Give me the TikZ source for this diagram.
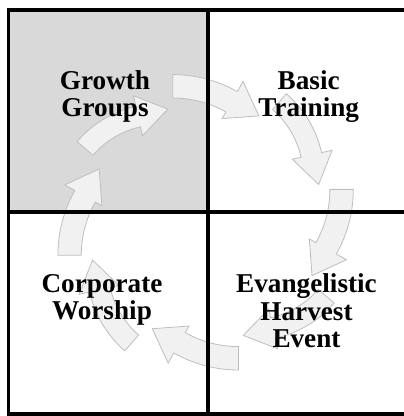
\documentclass[tikz,border=0pt]{standalone}
\usepackage{fontspec}
\setmainfont{Liberation Serif}
\definecolor{cellgray}{RGB}{217,217,217}
\definecolor{arrowfill}{RGB}{241,241,241}
\definecolor{arrowline}{RGB}{190,190,190}
\begin{document}
\begin{tikzpicture}[x=1pt,y=1pt,
  cyclearrow/.style={fill=arrowfill, draw=arrowline, line width=0.8pt, line join=miter},
  gridline/.style={line width=3.6pt, draw=black},
  cyclelabel/.style={font=\fontsize{27.2}{27.5}\selectfont\bfseries, align=center, anchor=base, inner sep=0pt}]
\useasboundingbox (0,0) rectangle (404,416);
\clip (0,0) rectangle (404,416);
% shaded cell
\fill[cellgray] (8.3,406.2) rectangle (208,203.7);
% ring of arrows, four-fold symmetric about C
\coordinate (C) at (205.6,193.7);
\foreach \k in {0,1,2,3} {
  \begin{scope}[shift={(C)}, rotate=-90*\k]
    \begin{scope}[shift={(-32.9,16)}]
      \draw[cyclearrow] (90:131.7) arc[start angle=90,end angle=60.6,radius=131.7]
        -- (60.6:143.3) -- (86.2,90.4) -- (60.6:100.7) -- (60.6:108.3)
        arc[start angle=60.6,end angle=90,radius=108.3] -- cycle;
    \end{scope}
    \begin{scope}[shift={(9.1,45.8)}]
      \draw[cyclearrow] (49.1:109.5) arc[start angle=49.1,end angle=12.6,radius=109.5]
        -- (12.6:120.3) -- (104,-8.1) -- (12.6:79.5) -- (12.6:88.5)
        arc[start angle=12.6,end angle=49.1,radius=88.5] -- cycle;
    \end{scope}
  \end{scope}
}
% grid
\draw[gridline] (8.3,1.8) rectangle (407.7,406.2);
\draw[gridline] (208,1.8) -- (208,406.2);
\draw[gridline] (8.3,203.7) -- (407.7,203.7);
% labels (base anchor = baseline of the last line)
\node[cyclelabel] (growth) at (105,299.3) {Growth\\Groups};
\node[cyclelabel] (basic) at (308.7,299.3) {Basic\\Training};
\node[cyclelabel] (corporate) at (102,96) {Corporate\\Worship};
\node[cyclelabel] (evangel) at (306.5,68.5) {Evangelistic\\Harvest\\Event};
\end{tikzpicture}
\end{document}
